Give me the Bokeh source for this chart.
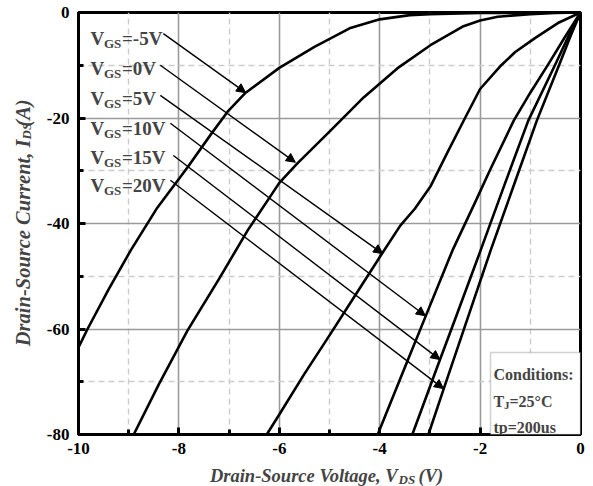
import math
from bokeh.plotting import figure
from bokeh.layouts import column, row
from bokeh.models import Range1d, FixedTicker, Label, Arrow, NormalHead, BoxAnnotation, ColumnDataSource
from bokeh.embed import file_html
from bokeh.resources import INLINE

# ---------------- data ----------------
vds_m5 = [0, -1, -2, -3, -3.4, -4.0, -4.6, -5.3, -6.0, -6.67, -7.03, -7.37, -7.83, -8.43, -8.96, -9.4, -9.82, -10]
ids_m5 = [0, -0.05, -0.1, -0.3, -0.5, -1.3, -3.0, -6.5, -10.5, -15.2, -18.8, -23.2, -29.4, -37.0, -45.1, -52.5, -60.0, -63.5]

vds_0 = [0, -0.5, -1.0, -1.65, -2.0, -2.33, -2.99, -3.65, -4.32, -4.98, -5.64, -6.0, -6.63, -7.2, -7.83, -8.4, -8.9]
ids_0 = [0, -0.1, -0.3, -0.8, -1.5, -2.6, -6.2, -10.6, -16.1, -22.4, -28.6, -32.3, -41.3, -50.5, -60.3, -70.5, -80]

vds_5 = [0, -0.45, -0.9, -1.3, -1.6, -2.0, -2.3, -2.65, -2.99, -3.3, -3.59, -3.94, -4.5, -5.0, -5.5, -6.0, -6.25]
ids_5 = [0, -2.0, -4.8, -7.5, -10.2, -14.5, -20.0, -26.5, -33.0, -37.2, -40.4, -45.5, -53.8, -61.2, -68.5, -76.2, -80]

vds_10 = [0, -0.3, -0.64, -1.0, -1.33, -1.8, -2.09, -2.55, -3.09, -3.5, -4.04]
ids_10 = [0, -4.5, -9.8, -15.2, -20.5, -29.8, -35.8, -45.1, -57.7, -67.3, -80]

vds_15 = [0, -0.24, -0.5, -1.04, -1.5, -1.99, -2.5, -2.83, -3.35]
ids_15 = [0, -4.5, -9.8, -20.5, -32.3, -45.1, -58.2, -66.6, -80]

vds_20 = [0, -0.2, -0.42, -0.87, -1.3, -1.79, -2.3, -2.73, -3.03]
ids_20 = [0, -4.5, -9.8, -20.5, -32.0, -45.1, -59.4, -71.5, -80]

vgs_labels = ["=-5V", "=0V", "=5V", "=10V", "=15V", "=20V"]
arrow_x0 = [-8.31, -8.37, -8.37, -8.17, -8.11, -8.17]
arrow_y0 = [-4.0, -10.0, -15.7, -21.0, -27.1, -31.8]
arrow_x1 = [-6.67, -5.68, -3.94, -3.09, -2.80, -2.73]
arrow_y1 = [-15.2, -28.4, -45.7, -57.5, -65.8, -71.3]

x_ticks = [-10, -8, -6, -4, -2, 0]
x_minor = [-9, -7, -5, -3, -1]
y_ticks = [-80, -60, -40, -20, 0]
y_minor = [-70, -50, -30, -10]
x_tick_labels = ["-10", "-8", "-6", "-4", "-2", "0"]
y_tick_labels = ["-80", "-60", "-40", "-20", "0"]

# ---------------- layout (page pixels) ----------------
PW, PH = 593, 486
YW = 40            # width of the strip that holds the y title
XH = 24            # height of the strip that holds the x title
MW, MH = PW - YW, PH - XH
FL, FT, FR, FB = 78, 12, 580, 434   # frame edges in page pixels
FONT = "Liberation Serif"

def dx(px):
    return -10 + (px - FL) * 10.0 / (FR - FL)

def dy(py):
    return -(py - FT) * 80.0 / (FB - FT)

p = figure(width=MW, height=MH, x_range=Range1d(-10, 0), y_range=Range1d(-80, 0),
           output_backend="svg", toolbar_location=None,
           min_border_left=FL - YW, min_border_right=MW - (FR - YW),
           min_border_top=FT, min_border_bottom=MH - FB)
p.title.visible = False
p.outline_line_color = "black"
p.outline_line_width = 3

p.xaxis.ticker = FixedTicker(ticks=x_ticks, minor_ticks=x_minor)
p.yaxis.ticker = FixedTicker(ticks=y_ticks, minor_ticks=y_minor)
p.xaxis.major_label_overrides = {t: s for t, s in zip(x_ticks, x_tick_labels)}
p.yaxis.major_label_overrides = {t: s for t, s in zip(y_ticks, y_tick_labels)}

for ax in (p.xaxis[0], p.yaxis[0]):
    ax.axis_line_color = "black"
    ax.axis_line_width = 3
    ax.major_tick_in = 7
    ax.major_tick_out = 0
    ax.minor_tick_in = 5
    ax.minor_tick_out = 0
    ax.major_tick_line_width = 3
    ax.minor_tick_line_width = 3
    ax.major_tick_line_color = "black"
    ax.minor_tick_line_color = "black"
    ax.major_label_text_font = FONT
    ax.major_label_text_font_style = "bold"
    ax.major_label_text_font_size = "17px"
    ax.major_label_text_color = "black"
p.xaxis.major_label_standoff = 8
p.yaxis.major_label_standoff = 9

for g in (p.xgrid[0], p.ygrid[0]):
    g.grid_line_color = "#9a9a9a"
    g.grid_line_width = 1.6
    g.minor_grid_line_color = "#cccccc"
    g.minor_grid_line_width = 1.4
    g.minor_grid_line_dash = "6 4"

# ---------------- curves ----------------
for vx, iy in ((vds_m5, ids_m5), (vds_0, ids_0), (vds_5, ids_5),
               (vds_10, ids_10), (vds_15, ids_15), (vds_20, ids_20)):
    p.line(vx, iy, line_color="black", line_width=2.6, line_join="round")

# ---------------- arrows ----------------
src = ColumnDataSource(dict(x0=arrow_x0, y0=arrow_y0, x1=arrow_x1, y1=arrow_y1))
p.add_layout(Arrow(x_start="x0", y_start="y0", x_end="x1", y_end="y1", source=src,
                   line_color="black", line_width=1.4,
                   end=NormalHead(size=9, fill_color="black", line_color="black", line_width=1)))

# ---------------- VGS labels ----------------
row_base = [38, 68, 98, 128, 157, 185]
for k, txt in enumerate(vgs_labels):
    yb = row_base[k]
    p.add_layout(Label(x=dx(90), y=dy(yb), text="V", text_font=FONT, text_font_style="bold",
                       text_font_size="19px", text_baseline="alphabetic", text_align="left"))
    p.add_layout(Label(x=dx(103.5), y=dy(yb + 5), text="GS", text_font=FONT, text_font_style="bold",
                       text_font_size="13px", text_baseline="alphabetic", text_align="left"))
    p.add_layout(Label(x=dx(121.5), y=dy(yb), text=txt, text_font=FONT, text_font_style="bold",
                       text_font_size="19px", text_baseline="alphabetic", text_align="left"))

# ---------------- conditions box ----------------
p.add_layout(BoxAnnotation(left=dx(490), right=0, bottom=-80, top=dy(352),
                           fill_color="white", fill_alpha=1.0, line_color="#666666", line_width=1.5))
p.add_layout(Label(x=dx(493), y=dy(374), text="Conditions:", text_font=FONT, text_font_style="bold",
                   text_font_size="16px", text_baseline="alphabetic"))
p.add_layout(Label(x=dx(493), y=dy(401), text="T", text_font=FONT, text_font_style="bold",
                   text_font_size="16px", text_baseline="alphabetic"))
p.add_layout(Label(x=dx(503.5), y=dy(404), text="J", text_font=FONT, text_font_style="bold",
                   text_font_size="11px", text_baseline="alphabetic"))
p.add_layout(Label(x=dx(509), y=dy(401), text="=25°C", text_font=FONT, text_font_style="bold",
                   text_font_size="16px", text_baseline="alphabetic"))
p.add_layout(Label(x=dx(493), y=dy(427), text="tp=200us", text_font=FONT, text_font_style="bold",
                   text_font_size="16px", text_baseline="alphabetic"))

# ---------------- title strips (plain pixel ranges, y measured from the bottom) ----------------
def strip(w, h):
    f = figure(width=w, height=h, x_range=Range1d(0, w), y_range=Range1d(0, h),
               output_backend="svg", toolbar_location=None,
               min_border=0, x_axis_type=None, y_axis_type=None)
    f.title.visible = False
    f.outline_line_color = None
    f.xgrid.visible = False
    f.ygrid.visible = False
    return f

# y title: text reads upwards
yf = strip(YW, MH)
YB = 22
yf.add_layout(Label(x=YB, y=MH - 139, text="Drain-Source Current, I", text_font=FONT,
                    text_font_style="bold italic", text_font_size="20.5px", angle=math.pi / 2,
                    text_baseline="alphabetic", text_align="right"))
yf.add_layout(Label(x=YB + 3.5, y=MH - 139, text="DS", text_font=FONT,
                    text_font_style="bold italic", text_font_size="13px", angle=math.pi / 2,
                    text_baseline="alphabetic", text_align="left"))
yf.add_layout(Label(x=YB, y=MH - 125, text="(A)", text_font=FONT,
                    text_font_style="bold italic", text_font_size="20.5px", angle=math.pi / 2,
                    text_baseline="alphabetic", text_align="left"))

# x title: baseline at page y=475
xf = strip(PW, XH)
xb = PH - 475
xf.add_layout(Label(x=397, y=xb, text="Drain-Source Voltage, V", text_font=FONT,
                    text_font_style="bold italic", text_font_size="18.5px",
                    text_baseline="alphabetic", text_align="right"))
xf.add_layout(Label(x=398, y=xb - 4, text="DS", text_font=FONT,
                    text_font_style="bold italic", text_font_size="13px",
                    text_baseline="alphabetic", text_align="left"))
xf.add_layout(Label(x=418, y=xb, text="(V)", text_font=FONT,
                    text_font_style="bold italic", text_font_size="18.5px",
                    text_baseline="alphabetic", text_align="left"))

layout = column(row(yf, p, spacing=0), xf, spacing=0)
open("out.html", "w").write(file_html(layout, INLINE))
